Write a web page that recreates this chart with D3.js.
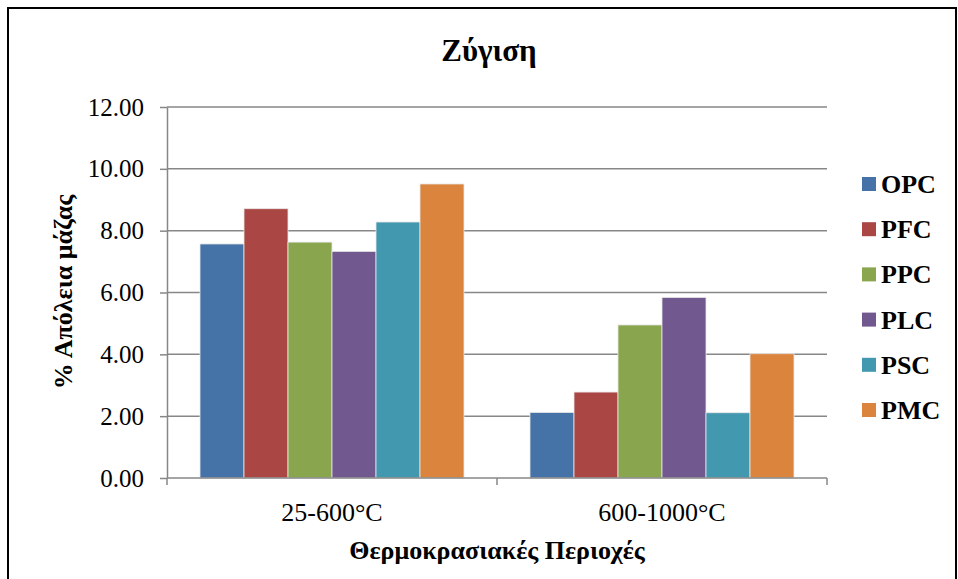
<!DOCTYPE html>
<html>
<head>
<meta charset="utf-8">
<script src="https://cdn.jsdelivr.net/npm/d3@7"></script>
<style>
    body { margin: 0; background: #fff; }
    .grid line { stroke: #878787; stroke-width: 1.5; }
    .axis path, .axis line { stroke: #878787; stroke-width: 1.5; }
</style>
</head>
<body>
<script>

var chartTitle = "Ζύγιση";

var yTitle = "% Απόλεια μάζας";

var xTitle = "Θερμοκρασιακές Περιοχές";

var categories = ["25-600°C", "600-1000°C"];

var seriesNames = ["OPC", "PFC", "PPC", "PLC", "PSC", "PMC"];

var OPC = [7.57, 2.12];
var PFC = [8.71, 2.78];
var PPC = [7.63, 4.95];
var PLC = [7.33, 5.84];
var PSC = [8.28, 2.11];
var PMC = [9.51, 4.02];

var yTicks = [0, 2, 4, 6, 8, 10, 12];

var colors = ["#4572A7", "#AA4643", "#89A54E", "#71588F", "#4198AF", "#DB843D"];

var seriesValues = [OPC, PFC, PPC, PLC, PSC, PMC];

var fontFam = "'Liberation Serif', 'Times New Roman', Tinos";

var W = 958, H = 579;

var margin = {top: 107, right: 131, bottom: 101, left: 167};

var width = W - margin.left - margin.right;

var height = H - margin.top - margin.bottom;

//  build rows: one per category, one value per series
var data = categories.map(function(c, i){
    var row = {category: c};
    seriesNames.forEach(function(s, j){
        row[s] = seriesValues[j][i];
    });
    return row;
});

var x0 = d3.scaleBand()
    .domain(categories)
    .range([0, width])
    .paddingInner(0.2)
    .paddingOuter(0.1);

var x1 = d3.scaleBand()
    .domain(seriesNames)
    .range([0, x0.bandwidth()]);

var y = d3.scaleLinear()
    .domain([0, 12])
    .range([height, 0]);

var color = d3.scaleOrdinal()
    .domain(seriesNames)
    .range(colors);

var svgRoot = d3.select("body")
    .append("svg")
    .attr("width", W)
    .attr("height", H);

//  outer frame
svgRoot.append("rect")
    .attr("x", 8)
    .attr("y", 8)
    .attr("width", 948)
    .attr("height", 620)
    .attr("fill", "none")
    .attr("stroke", "#000")
    .attr("stroke-width", 2);

svgRoot.append("text")
    .attr("class", "lbl")
    .attr("x", 489)
    .attr("y", 61)
    .attr("text-anchor", "middle")
    .style("font-size", "31px")
    .style("font-weight", "bold")
    .text(chartTitle);

var svg = svgRoot.append("g")
    .attr("transform", "translate(" + margin.left + "," + margin.top + ")");

//  horizontal gridlines
svg.append("g")
    .attr("class", "grid")
    .selectAll("line")
    .data(yTicks.slice(1))
    .enter()
    .append("line")
    .attr("x1", 0)
    .attr("x2", width)
    .attr("y1", function(d){ return y(d); })
    .attr("y2", function(d){ return y(d); });

var groups = svg.selectAll(".group")
    .data(data)
    .enter()
    .append("g")
    .attr("class", "group")
    .attr("transform", function(d){
        return "translate(" + x0(d.category) + ",0)";
    });

groups.selectAll("rect")
    .data(function(d){
        return seriesNames.map(function(s){ return {key: s, value: d[s]}; });
    })
    .enter()
    .append("rect")
    .attr("x", function(d){ return x1(d.key); })
    .attr("y", function(d){ return y(d.value); })
    .attr("width", x1.bandwidth())
    .attr("height", function(d){ return height - y(d.value); })
    .attr("fill", function(d){ return color(d.key); })
    .attr("stroke", "#e8e8e8")
    .attr("stroke-width", 0.8);

svg.append("g")
    .attr("class", "axis axis-left")
    .call(d3.axisLeft(y)
        .tickValues(yTicks)
        .tickFormat(d3.format(".2f"))
        .tickSizeInner(7)
        .tickSizeOuter(0)
        .tickPadding(16))
    .attr("font-family", null)
    .attr("font-size", null)
    .selectAll("text")
    .attr("class", "lbl")
    .style("font-size", "25px");

//  category axis: ticks sit on the category boundaries
var xAxis = svg.append("g")
    .attr("class", "axis axis-bottom")
    .attr("transform", "translate(0," + height + ")");

xAxis.append("line")
    .attr("x1", 0)
    .attr("x2", width);

xAxis.selectAll(".bound")
    .data([0, 1, 2])
    .enter()
    .append("line")
    .attr("x1", function(d){ return d * x0.step(); })
    .attr("x2", function(d){ return d * x0.step(); })
    .attr("y1", 0)
    .attr("y2", 7);

xAxis.selectAll(".cat")
    .data(categories)
    .enter()
    .append("text")
    .attr("class", "lbl")
    .attr("x", function(d){ return x0(d) + x0.bandwidth() / 2; })
    .attr("y", 43)
    .attr("text-anchor", "middle")
    .style("font-size", "26px")
    .text(function(d){ return d; });

svgRoot.append("text")
    .attr("class", "lbl")
    .attr("x", margin.left + width / 2)
    .attr("y", 559)
    .attr("text-anchor", "middle")
    .style("font-size", "26px")
    .style("font-weight", "bold")
    .text(xTitle);

svgRoot.append("text")
    .attr("class", "lbl")
    .attr("transform", "translate(72,292) rotate(-90)")
    .attr("text-anchor", "middle")
    .style("font-size", "26px")
    .style("font-weight", "bold")
    .text(yTitle);

//  legend
var legend = svgRoot.selectAll(".legend")
    .data(seriesNames)
    .enter()
    .append("g")
    .attr("class", "legend")
    .attr("transform", function(d, i){
        return "translate(862," + (177 + i * 45.2) + ")";
    });

legend.append("rect")
    .attr("width", 14)
    .attr("height", 14)
    .attr("fill", function(d){ return color(d); });

legend.append("text")
    .attr("class", "lbl")
    .attr("x", 19)
    .attr("y", 16)
    .style("font-size", "26px")
    .style("font-weight", "bold")
    .text(function(d){ return d; });

//  serif everywhere, set inline
svgRoot.selectAll(".lbl")
    .style("font-family", fontFam)
    .style("fill", "#000");

</script>
</body>
</html>
